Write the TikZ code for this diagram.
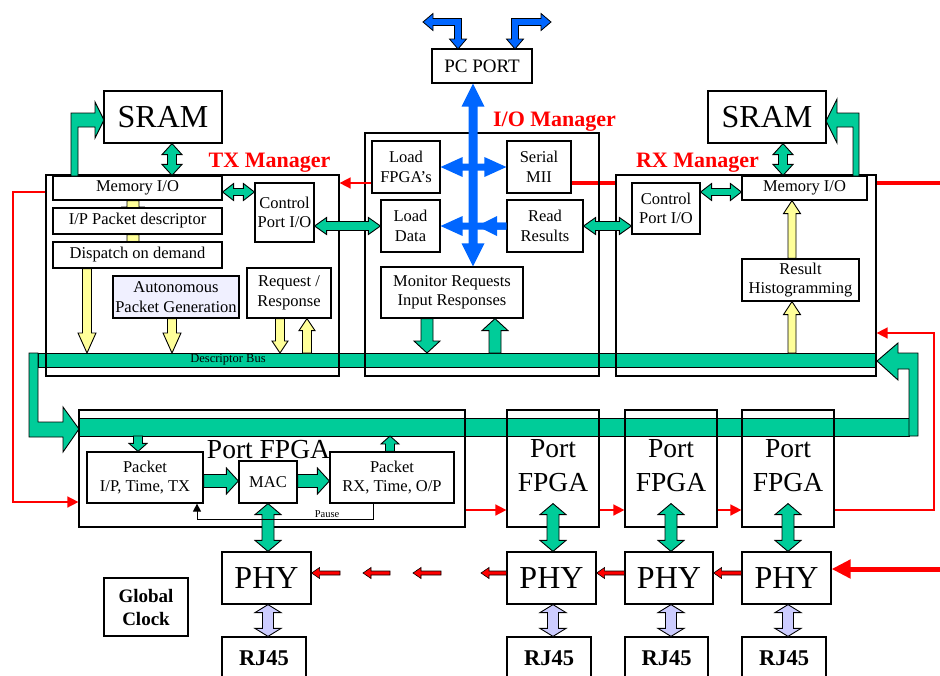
\documentclass[tikz,border=0pt]{standalone}
\usepackage{fontspec}
\setmainfont{Liberation Serif}
\usetikzlibrary{calc,arrows.meta}
\pgfdeclarelayer{bg}
\pgfsetlayers{bg,main}
\definecolor{gr}{RGB}{0,204,153}
\definecolor{yl}{RGB}{255,255,153}
\definecolor{lav}{RGB}{204,204,255}
\definecolor{bl}{RGB}{0,102,255}
\definecolor{autofill}{RGB}{240,240,255}

% single fat arrow: [style]{tail}{tip}{shaft half width}{head half width}{head length}
\newcommand\fatarrow[6][]{%
 \coordinate (fa-a) at (#2); \coordinate (fa-b) at (#3);
 \coordinate (fa-bb) at ($(fa-b)!#6!(fa-a)$);
 \path[#1] ($(fa-a)!#4!90:(fa-b)$) -- ($(fa-bb)!#4!90:(fa-b)$) -- ($(fa-bb)!#5!90:(fa-b)$) -- (fa-b)
   -- ($(fa-bb)!#5!-90:(fa-b)$) -- ($(fa-bb)!#4!-90:(fa-b)$) -- ($(fa-a)!#4!-90:(fa-b)$) -- cycle;}
% double fat arrow
\newcommand\fatdarrow[6][]{%
 \coordinate (fa-a) at (#2); \coordinate (fa-b) at (#3);
 \coordinate (fa-bb) at ($(fa-b)!#6!(fa-a)$);
 \coordinate (fa-ab) at ($(fa-a)!#6!(fa-b)$);
 \path[#1] ($(fa-ab)!#4!90:(fa-b)$) -- ($(fa-bb)!#4!90:(fa-b)$) -- ($(fa-bb)!#5!90:(fa-b)$) -- (fa-b)
   -- ($(fa-bb)!#5!-90:(fa-b)$) -- ($(fa-bb)!#4!-90:(fa-b)$) -- ($(fa-ab)!#4!-90:(fa-b)$)
   -- ($(fa-ab)!#5!-90:(fa-b)$) -- (fa-a) -- ($(fa-ab)!#5!90:(fa-b)$) -- cycle;}
% box by corners: [style]{name}{x1}{y1}{x2}{y2}{text}
\newcommand\bx[7][]{%
 \pgfmathsetmacro\bxw{#5-#3}\pgfmathsetmacro\bxh{#6-#4}%
 \pgfmathsetmacro\bxx{(#3+#5)/2}\pgfmathsetmacro\bxy{(#4+#6)/2}%
 \node[box,minimum width=\bxw pt,minimum height=\bxh pt,#1] (#2) at (\bxx,\bxy) {#7};}

\begin{document}
\begin{tikzpicture}[x=1pt,y=-1pt,line join=miter,
  box/.style={draw,line width=1.2pt,fill=white,inner sep=0pt,align=center,
    font=\fontsize{16.5}{19.5}\selectfont},
  cont/.style={box,fill=none},
  big/.style={font=\fontsize{27.5}{34}\selectfont,inner sep=0pt,align=center},
  mgr/.style={text=red,font=\fontsize{22}{24}\selectfont\bfseries,inner sep=0pt},
  gfat/.style={fill=gr,draw=black,line width=0.9pt},
  yfat/.style={fill=yl,draw=black,line width=0.9pt},
  lfat/.style={fill=lav,draw=black,line width=0.9pt},
  bfat/.style={fill=bl},
  rfat/.style={fill=red,draw=black,line width=0.6pt},
  redthin/.style={red,line width=1.5pt},
  rtip/.style={-{Triangle[length=11pt,width=11pt]}}]
\useasboundingbox (0,0) rectangle (940,675);
\clip (0,0) rectangle (940,675);

% ---- containers
\bx[cont]{tx}{46}{175}{339}{376}{}
\bx[cont]{io}{365}{133}{599}{376}{}
\bx[cont]{rx}{616}{175}{876}{376}{}
\bx[cont]{pf}{79}{410}{465}{527}{}
\bx[cont]{fpga2}{507}{410}{599}{527}{}
\bx[cont]{fpga3}{625}{410}{717}{527}{}
\bx[cont]{fpga4}{742}{410}{834}{527}{}

% ---- boxes
\bx[font=\fontsize{19}{21}\selectfont]{pcport}{432}{49}{532}{83}{PC PORT}
\bx[font=\fontsize{32}{34}\selectfont]{sramT}{104}{91}{222}{143}{SRAM}
\bx[font=\fontsize{32}{34}\selectfont]{sramR}{708}{91}{826}{143}{SRAM}
\bx{memT}{53}{176}{222}{200}{Memory I/O}
\bx{ipT}{53}{208}{222}{234}{I/P Packet descriptor}
\bx{dispT}{53}{242}{222}{268}{Dispatch on demand}
\bx{ctlT}{255}{183}{314}{242}{Control\\Port I/O}
\bx[fill=autofill]{apg}{113}{276}{239}{318}{Autonomous\\Packet Generation}
\bx{req}{247}{268}{331}{318}{Request /\\Response}
\bx{lf}{372}{141}{440}{193}{Load\\FPGA’s}
\bx{sm}{507}{141}{571}{193}{Serial\\MII}
\bx{ld}{381}{200}{440}{252}{Load\\Data}
\bx{rr}{507}{200}{583}{252}{Read\\Results}
\bx{mon}{381}{267}{523}{318}{Monitor Requests\\Input Responses}
\bx{ctlR}{632}{183}{700}{234}{Control\\Port I/O}
\bx{memR}{742}{176}{867}{200}{Memory I/O}
\bx{hist}{742}{259}{859}{301}{Result\\Histogramming}
\bx{pip}{87}{452}{203}{503}{Packet\\I/P, Time, TX}
\bx{mac}{239}{461}{297}{503}{MAC}
\bx{prx}{330}{452}{454}{503}{Packet\\RX, Time, O/P}
\bx[font=\fontsize{32}{34}\selectfont]{phy1}{222}{552}{311}{604}{PHY}
\bx[font=\fontsize{32}{34}\selectfont]{phy2}{507}{552}{596}{604}{PHY}
\bx[font=\fontsize{32}{34}\selectfont]{phy3}{625}{552}{713}{604}{PHY}
\bx[font=\fontsize{32}{34}\selectfont]{phy4}{742}{552}{831}{604}{PHY}
\bx[font=\fontsize{22.5}{25}\selectfont\bfseries]{rj1}{222}{637}{306}{680}{RJ45}
\bx[font=\fontsize{22.5}{25}\selectfont\bfseries]{rj2}{507}{637}{591}{680}{RJ45}
\bx[font=\fontsize{22.5}{25}\selectfont\bfseries]{rj3}{625}{637}{708}{680}{RJ45}
\bx[font=\fontsize{22.5}{25}\selectfont\bfseries]{rj4}{742}{637}{826}{680}{RJ45}
\bx[font=\fontsize{19}{23}\selectfont\bfseries]{gclk}{104}{578}{188}{636}{Global\\Clock}

\coordinate (dbt) at (0,353);
\coordinate (lbb) at (0,436);
\coordinate (yph) at (0,573);

% ---- background: bus ring, thick red line, hidden-head arrows
\begin{pgfonlayer}{bg}
 \path[gfat] (38,353) rectangle (876,367);
 \path[gfat] (29,353) -- (38,353) -- (38,422) -- (63,422) -- (63,407) -- (79,429)
   -- (63,452) -- (63,437) -- (29,437) -- cycle;
 \path[gfat] (79,418) rectangle (909,436);
 \path[gfat] (909,436) -- (918,436) -- (918,353) -- (898,353) -- (898,343) -- (877,361)
   -- (898,380) -- (898,369) -- (909,369) -- cycle;
 \draw[red,line width=4pt] (sm.east |- 0,183) -- (rx.west |- 0,183);
 \draw[red,line width=4pt] (rx.east |- 0,183) -- (945,183);
 \fatarrow[yfat]{133,0 |- memT.south}{133,0 |- ipT.center}{6pt}{11pt}{14pt}
 \fatarrow[yfat]{133,0 |- ipT.south}{133,0 |- dispT.center}{6pt}{11pt}{13pt}
\end{pgfonlayer}

% ---- green arrows
\path[gfat] (71,176) -- (71,113) -- (95,113) -- (95,102) -- (104,120) -- (95,138)
  -- (95,127) -- (78,127) -- (78,176) -- cycle;
\path[gfat] (859,176) -- (859,113) -- (837,113) -- (837,99) -- (826,121) -- (837,143)
  -- (837,127) -- (853,127) -- (853,176) -- cycle;
\fatdarrow[gfat]{172,0 |- sramT.south}{172,0 |- memT.north}{4.5pt}{10pt}{11pt}
\fatdarrow[gfat]{783,0 |- sramR.south}{783,0 |- memR.north}{4.5pt}{10pt}{11pt}
\fatdarrow[gfat]{memT.east |- 0,192}{ctlT.west |- 0,192}{3.5pt}{8.5pt}{11pt}
\fatdarrow[gfat]{ctlR.east |- 0,192}{memR.west |- 0,192}{3.5pt}{8.5pt}{11pt}
\fatdarrow[gfat]{ctlT.east |- ld.west}{ld.west}{4.5pt}{8.5pt}{12pt}
\fatdarrow[gfat]{rr.east}{ctlR.west |- rr.east}{4.5pt}{8.5pt}{12pt}
\fatarrow[gfat]{427,0 |- mon.south}{427,0 |- dbt}{6pt}{13pt}{12pt}
\fatarrow[gfat]{495,0 |- dbt}{495,0 |- mon.south}{6pt}{13pt}{12pt}
\fatarrow[gfat]{138,0 |- lbb}{138,0 |- pip.north}{4.5pt}{9pt}{8pt}
\fatarrow[gfat]{390,0 |- prx.north}{390,0 |- lbb}{4.5pt}{9pt}{8pt}
\fatarrow[gfat]{pip.east |- 0,481}{mac.west |- 0,481}{6.5pt}{13pt}{12pt}
\fatarrow[gfat]{mac.east |- 0,481}{prx.west |- 0,481}{6.5pt}{13pt}{12pt}
\fatdarrow[gfat]{mac.south}{mac.south |- phy1.north}{6pt}{13pt}{11pt}
\fatdarrow[gfat]{fpga2.south |- mac.south}{fpga2.south |- phy2.north}{6pt}{13pt}{11pt}
\fatdarrow[gfat]{fpga3.south |- mac.south}{fpga3.south |- phy3.north}{6pt}{13pt}{11pt}
\fatdarrow[gfat]{fpga4.south |- mac.south}{fpga4.south |- phy4.north}{6pt}{13pt}{11pt}

% ---- lavender arrows
\fatdarrow[lfat]{mac.south |- phy1.south}{mac.south |- rj1.north}{5.5pt}{13pt}{8pt}
\fatdarrow[lfat]{fpga2.south |- phy2.south}{fpga2.south |- rj2.north}{5.5pt}{13pt}{8pt}
\fatdarrow[lfat]{fpga3.south |- phy3.south}{fpga3.south |- rj3.north}{5.5pt}{13pt}{8pt}
\fatdarrow[lfat]{fpga4.south |- phy4.south}{fpga4.south |- rj4.north}{5.5pt}{13pt}{8pt}

% ---- yellow arrows
\fatarrow[yfat]{87,0 |- dispT.south}{87,0 |- dbt}{4.5pt}{9pt}{20pt}
\fatarrow[yfat]{172,0 |- apg.south}{172,0 |- dbt}{4.5pt}{9pt}{20pt}
\fatarrow[yfat]{280,0 |- req.south}{280,0 |- dbt}{4.5pt}{8pt}{12pt}
\fatarrow[yfat]{307,0 |- dbt}{307,0 |- req.south}{4.5pt}{8pt}{12pt}
\fatarrow[yfat]{792,0 |- hist.north}{792,0 |- memR.south}{4pt}{8.5pt}{13pt}
\fatarrow[yfat]{792,0 |- dbt}{792,0 |- hist.south}{4pt}{8.5pt}{13pt}

% ---- blue arrows
\fatdarrow[bfat]{lf.east}{sm.west}{3.5pt}{10pt}{22pt}
\fatarrow[bfat]{rr.west}{ld.east}{3.5pt}{10pt}{22pt}
\fatarrow[bfat]{rr.west}{477,0 |- rr.west}{3.5pt}{10pt}{20pt}
\fatdarrow[bfat]{473,0 |- pcport.south}{473,0 |- mon.north}{4.5pt}{11.5pt}{23pt}
\path[bfat,draw=black,line width=0.8pt] (458,49) -- (449.5,39) -- (454.5,39) -- (454.5,25.5)
  -- (433,25.5) -- (433,30.5) -- (423,22) -- (433,13.5) -- (433,18.5) -- (461.5,18.5)
  -- (461.5,39) -- (466.5,39) -- cycle;
\path[bfat,draw=black,line width=0.8pt] (515,49) -- (506.5,39) -- (511.5,39) -- (511.5,18.5)
  -- (541,18.5) -- (541,13.5) -- (551,22) -- (541,30.5) -- (541,25.5) -- (518.5,25.5)
  -- (518.5,39) -- (523.5,39) -- cycle;

% ---- red lines
\draw[redthin,rtip] (lf.west |- 0,183) -- (tx.east |- 0,183);
\draw[redthin,rtip] (tx.west |- 0,192) -- (13,192) -- (13,502) -- (pf.west |- 0,502);
\draw[redthin,rtip] (pf.east |- 0,510) -- (fpga2.west |- 0,510);
\draw[redthin,rtip] (fpga2.east |- 0,510) -- (fpga3.west |- 0,510);
\draw[redthin,rtip] (fpga3.east |- 0,510) -- (fpga4.west |- 0,510);
\draw[redthin,rtip] (fpga4.east |- 0,510) -- (934,510) -- (934,333) -- (rx.east |- 0,333);
\draw[red,line width=5pt,-{Triangle[length=19pt,width=18pt]}] (945,569) -- (phy4.east |- 0,569);
\fatarrow[rfat]{340,0 |- yph}{phy1.east |- yph}{2pt}{5.5pt}{8pt}
\fatarrow[rfat]{390,0 |- yph}{363,0 |- yph}{2pt}{5.5pt}{8pt}
\fatarrow[rfat]{441,0 |- yph}{413,0 |- yph}{2pt}{5.5pt}{8pt}
\fatarrow[rfat]{phy2.west |- yph}{481,0 |- yph}{2pt}{5.5pt}{8pt}
\fatarrow[rfat]{phy3.west |- yph}{phy2.east |- yph}{2pt}{5.5pt}{8pt}
\fatarrow[rfat]{phy4.west |- yph}{phy3.east |- yph}{2pt}{5.5pt}{8pt}

% ---- pause feedback
\draw[line width=1pt,-{Triangle[length=8pt,width=8pt]}] (373,0 |- prx.south) -- (373,519)
  -- (197,519) -- (197,0 |- pip.south);
\node[font=\fontsize{10.5}{12}\selectfont,inner sep=0pt,anchor=base] (pausel) at (327,517) {Pause};

% ---- labels
\node[mgr,anchor=base] (txl) at (269.5,167) {TX Manager};
\node[mgr,anchor=base] (iol) at (554.5,126) {I/O Manager};
\node[mgr,anchor=base] (rxl) at (697.5,167) {RX Manager};
\node[font=\fontsize{12.5}{14}\selectfont,inner sep=0pt] (dbl) at (228,360) {Descriptor Bus};
\node[big,anchor=base] (pft) at (268.5,458) {Port FPGA};
\node[big] (fpga2t) at (553,466) {Port\\FPGA};
\node[big] (fpga3t) at (671,466) {Port\\FPGA};
\node[big] (fpga4t) at (788,466) {Port\\FPGA};
\end{tikzpicture}
\end{document}
